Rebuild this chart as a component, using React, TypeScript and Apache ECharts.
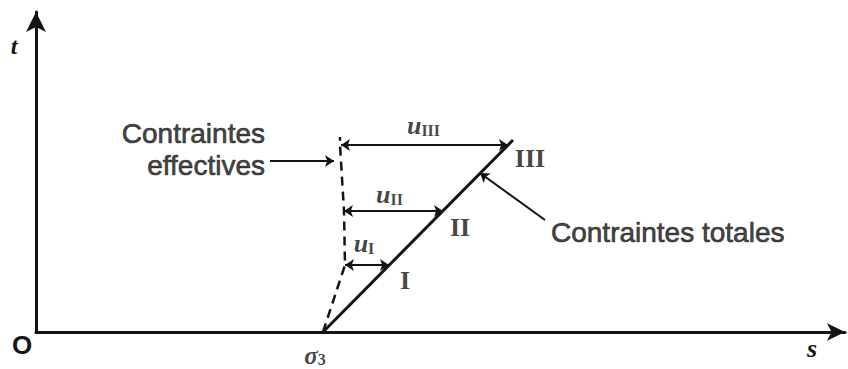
import React, { useEffect, useRef } from "react";
import * as echarts from "echarts";

// Coordinate frame (stress units) of the diagram
const S_MAX = 809;
const T_MAX = 320;
const SIGMA3 = 287;

// Total stress path (solid)
const totalS = [287, 477];
const totalT = [0, 192];

// Effective stress path (dashed)
const effS = [287, 309, 308, 304, 304];
const effT = [0, 67, 121, 187, 195];

// Levels I, II, III and the excess pore pressure u at each
const levelNames = ["I", "II", "III"];
const levelT = [67, 121, 187];
const levelEffS = [309, 308, 305];
const levelTotalS = [353, 407, 472];

// Annotation arrows
const effNoteFrom = [234, 171];
const effNoteTo = [298, 171];
const totNoteFrom = [509, 112];
const totNoteTo = [444, 159];

const INK = "#141414";
const SANS = "'Liberation Sans', Arial, sans-serif";
const SERIF = "'Liberation Serif', 'Times New Roman', serif";

const romanOffsets: number[][] = [
  [16, 15],
  [17, 16],
  [22, 13],
];
const uOffsets: number[][] = [
  [-3, -22],
  [-4, -17],
  [-1, -20],
];

const noBorder = { textBorderWidth: 0, textBorderColor: "transparent", textShadowBlur: 0 };
const thinBorder = { textBorderWidth: 0.7, textBorderColor: INK, textShadowBlur: 0 };

export default function App() {
  const ref = useRef<HTMLDivElement>(null);

  useEffect(() => {
    if (!ref.current) return;
    const chart = echarts.init(ref.current, undefined, { renderer: "svg" });

    const totalData = totalS.map((s, i) => [s, totalT[i]]);
    const effData = effS.map((s, i) => [s, effT[i]]);

    const uArrows = levelT.map((t, i) => ({
      coords: [
        [levelEffS[i], t],
        [levelTotalS[i], t],
      ],
    }));

    const romanLabels = levelT.map((t, i) => ({
      value: [levelTotalS[i], t],
      label: {
        position: romanOffsets[i],
        formatter: levelNames[i],
      },
    }));

    const uLabels = levelT.map((t, i) => ({
      value: [(levelEffS[i] + levelTotalS[i]) / 2, t],
      label: {
        position: uOffsets[i],
        formatter: "{u|u}{sub|" + levelNames[i] + "}",
      },
    }));

    chart.setOption({
      animation: false,
      backgroundColor: "#ffffff",
      grid: { left: 36, right: 3, top: 12, bottom: 37, containLabel: false },
      xAxis: {
        type: "value",
        min: 0,
        max: S_MAX,
        axisLine: {
          show: true,
          onZero: false,
          symbol: ["none", "arrow"],
          symbolSize: [13, 18],
          lineStyle: { color: INK, width: 3 },
        },
        axisTick: { show: false },
        axisLabel: { show: false },
        splitLine: { show: false },
      },
      yAxis: {
        type: "value",
        min: 0,
        max: T_MAX,
        axisLine: {
          show: true,
          onZero: false,
          symbol: ["none", "arrow"],
          symbolSize: [15, 20],
          lineStyle: { color: INK, width: 3 },
        },
        axisTick: { show: false },
        axisLabel: { show: false },
        splitLine: { show: false },
      },
      series: [
        {
          type: "line",
          data: totalData,
          symbol: "none",
          lineStyle: { color: INK, width: 3 },
          clip: false,
        },
        {
          type: "line",
          data: effData,
          symbol: "none",
          lineStyle: { color: INK, width: 2.5, type: [9, 6] },
          clip: false,
        },
        {
          type: "lines",
          coordinateSystem: "cartesian2d",
          symbol: ["arrow", "arrow"],
          symbolSize: 9,
          lineStyle: { color: INK, width: 2, opacity: 1 },
          data: uArrows,
        },
        {
          type: "lines",
          coordinateSystem: "cartesian2d",
          symbol: ["none", "arrow"],
          symbolSize: 9,
          lineStyle: { color: INK, width: 2, opacity: 1 },
          data: [
            { coords: [effNoteFrom, effNoteTo] },
            { coords: [totNoteFrom, totNoteTo] },
          ],
        },
        {
          type: "scatter",
          symbolSize: 0,
          itemStyle: { color: INK },
          clip: false,
          silent: true,
          label: {
            show: true,
            align: "center",
            verticalAlign: "middle",
            color: INK,
            fontFamily: SERIF,
            fontWeight: "bold",
            fontSize: 26,
            ...noBorder,
          },
          data: romanLabels,
        },
        {
          type: "scatter",
          symbolSize: 0,
          itemStyle: { color: INK },
          clip: false,
          silent: true,
          label: {
            show: true,
            align: "center",
            verticalAlign: "middle",
            color: INK,
            ...noBorder,
            rich: {
              u: {
                fontFamily: SERIF,
                fontStyle: "italic",
                fontWeight: "bold",
                fontSize: 26,
                color: INK,
                lineHeight: 26,
                verticalAlign: "middle",
                ...noBorder,
              },
              sub: {
                fontFamily: SERIF,
                fontWeight: "bold",
                fontSize: 16,
                color: INK,
                lineHeight: 12,
                verticalAlign: "bottom",
                ...noBorder,
              },
            },
          },
          data: uLabels,
        },
        {
          type: "scatter",
          symbolSize: 0,
          itemStyle: { color: INK },
          clip: false,
          silent: true,
          label: {
            show: true,
            color: INK,
            fontFamily: SANS,
            fontSize: 28,
            ...thinBorder,
          },
          data: [
            {
              value: effNoteFrom,
              label: {
                position: "left",
                distance: 5,
                offset: [0, -12],
                align: "right",
                lineHeight: 32,
                formatter: "Contraintes\neffectives",
              },
            },
            {
              value: totNoteFrom,
              label: {
                position: "right",
                distance: 6,
                offset: [0, 12],
                formatter: "Contraintes totales",
              },
            },
            {
              value: [SIGMA3, 0],
              label: {
                position: [-8, 23],
                align: "center",
                verticalAlign: "middle",
                formatter: "{s|σ}{sub|3}",
                ...noBorder,
                rich: {
                  s: {
                    fontFamily: SERIF,
                    fontStyle: "italic",
                    fontWeight: "bold",
                    fontSize: 25,
                    color: INK,
                    lineHeight: 24,
                    verticalAlign: "middle",
                    ...noBorder,
                  },
                  sub: {
                    fontFamily: SERIF,
                    fontWeight: "bold",
                    fontSize: 16,
                    color: INK,
                    lineHeight: 10,
                    verticalAlign: "bottom",
                    ...noBorder,
                  },
                },
              },
            },
          ],
        },
      ],
      graphic: [
        {
          type: "text",
          x: 14,
          y: 46,
          style: {
            text: "t",
            font: `italic bold 24px ${SERIF}`,
            fill: INK,
            align: "center",
            verticalAlign: "middle",
          },
        },
        {
          type: "text",
          x: 22,
          y: 345,
          style: {
            text: "O",
            font: `bold 26px ${SANS}`,
            fill: INK,
            align: "center",
            verticalAlign: "middle",
          },
        },
        {
          type: "text",
          x: 812,
          y: 348,
          style: {
            text: "s",
            font: `italic bold 26px ${SERIF}`,
            fill: INK,
            align: "center",
            verticalAlign: "middle",
          },
        },
      ],
    });

    return () => chart.dispose();
  }, []);

  return (
    <div
      ref={ref}
      style={{ position: "absolute", left: 0, top: 0, width: 848, height: 369 }}
    />
  );
}
